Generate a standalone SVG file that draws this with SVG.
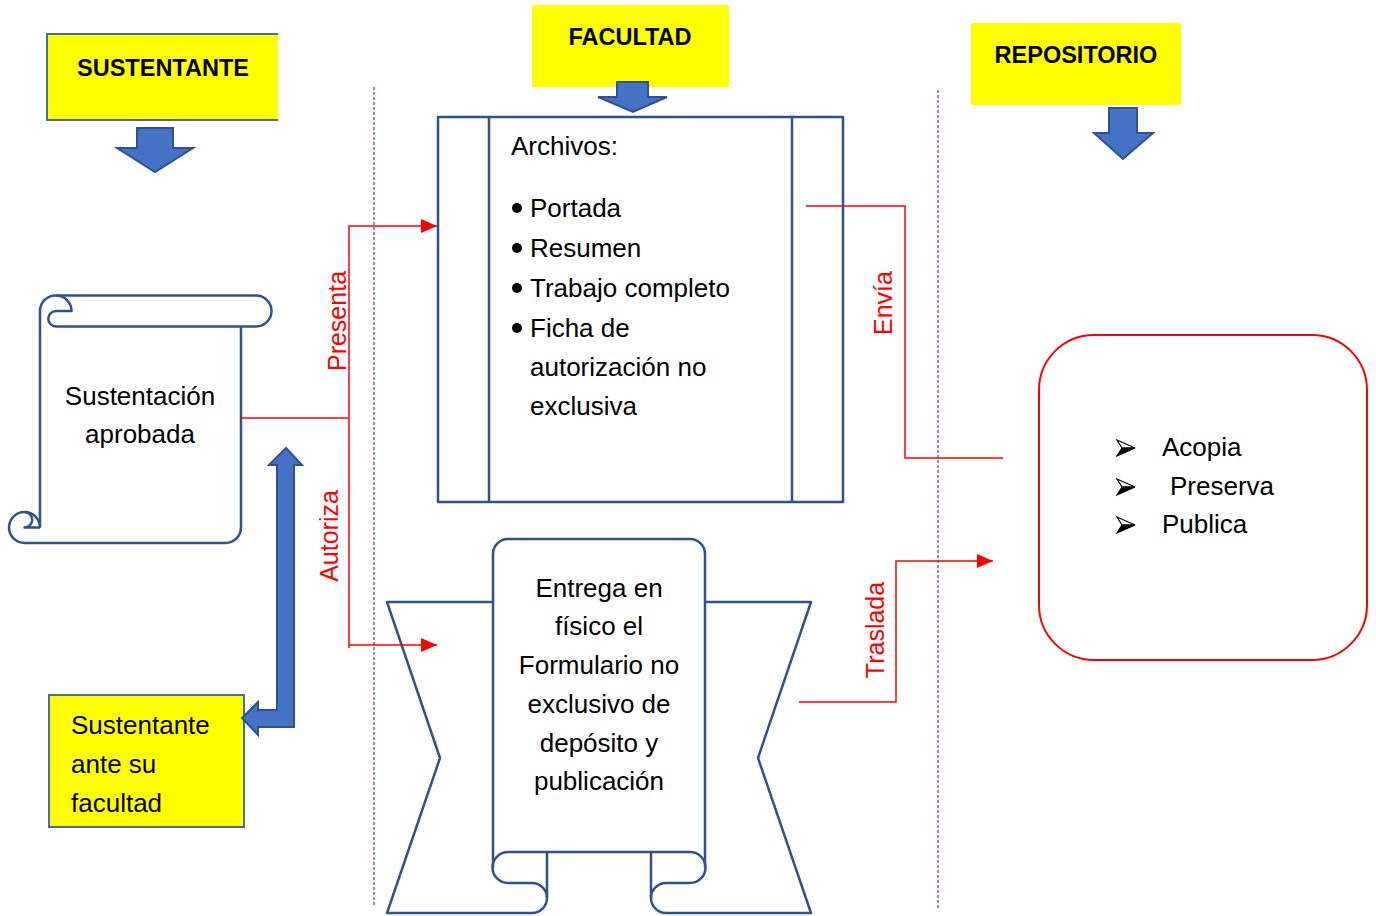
<svg xmlns="http://www.w3.org/2000/svg" width="1376" height="916" viewBox="0 0 1376 916">
<defs>
<style>
.t{font-family:"Liberation Sans",Arial,sans-serif;font-size:26px;fill:#000}
.h{font-family:"Liberation Sans",Arial,sans-serif;font-size:23.5px;font-weight:bold;fill:#000;text-anchor:middle}
.lab{font-family:"Liberation Sans",Arial,sans-serif;font-size:25px;fill:#FF0000;text-anchor:middle}
.sh{fill:#fff;stroke:#2F528F;stroke-width:2.5;stroke-linejoin:round}
.ln{fill:none;stroke:#2F528F;stroke-width:2.5;stroke-linejoin:round}
.ar{fill:#4472C4;stroke:#2F528F;stroke-width:2;stroke-linejoin:miter}
.yl{fill:#FFFF00}
.con{fill:none;stroke:#FF0000;stroke-width:1.5}
.dash{fill:none;stroke:#7030A0;stroke-width:1.2;stroke-dasharray:3 2}
.dot{fill:#000}
.bw{fill:#fff;stroke:#000;stroke-width:1.2;stroke-linejoin:miter}
.bb{fill:#000;stroke:#000;stroke-width:1.2;stroke-linejoin:miter}
</style>
<marker id="ah" viewBox="0 0 16 14" refX="16" refY="7" markerWidth="16" markerHeight="14" markerUnits="userSpaceOnUse" orient="auto">
<path d="M0,0 L16,7 L0,14 Z" fill="#FF0000"/>
</marker>
<g id="arrowbullet">
<path class="bw" d="M0,-8 L18,0 L5,0 Z"/>
<path class="bb" d="M5,0 L18,0 L0,8 Z"/>
</g>
</defs>
<rect width="1376" height="916" fill="#fff"/>

<g id="lanes">
<line class="dash" x1="374" y1="87" x2="374" y2="905"/>
<line class="dash" x1="938" y1="90" x2="938" y2="910"/>
</g>

<g id="sustentante">
<rect class="yl" x="47" y="34" width="231" height="86"/>
<path d="M278,34 L47,34 L47,120 L278,120" fill="none" stroke="#41719C" stroke-width="2"/>
<text class="h" x="163" y="76">SUSTENTANTE</text>
<path class="ar" d="M137,128 L173,128 L173,148 L193,148 L155,172 L117,148 L137,148 Z"/>
</g>

<g id="facultad">
<rect class="yl" x="532" y="5" width="197" height="82"/>
<text class="h" x="630" y="45">FACULTAD</text>
<path class="ar" d="M617,82 L648,82 L648,97 L667,97 L633,112 L598,97 L617,97 Z"/>
</g>

<g id="repositorio">
<rect class="yl" x="971" y="23" width="210" height="82"/>
<text class="h" x="1076" y="63">REPOSITORIO</text>
<path class="ar" d="M1109,108 L1137,108 L1137,133 L1153,133 L1123,159 L1094,133 L1109,133 Z"/>
</g>

<g id="sustentacion">
<path d="M40,311 A15.5,15.5 0 0 1 56,295.5 L256,295.5 A15.5,15.5 0 0 1 256,326.5 L241,326.5 L241,527.5 A15.5,15.5 0 0 1 225.5,543 L24.5,543 A15.5,15.5 0 0 1 24.5,512 A15.5,15.5 0 0 1 40,527.5 Z" fill="#fff"/>
<path class="ln" d="M40,527.5 L40,311 A15.5,15.5 0 0 1 56,295.5 L256,295.5 A15.5,15.5 0 0 1 256,326.5 L56,326.5"/>
<path class="ln" d="M56,295.5 A15.5,15.5 0 0 1 71.5,311 L56,311 A7.75,7.75 0 0 0 56,326.5"/>
<path class="ln" d="M241,326.5 L241,527.5 A15.5,15.5 0 0 1 225.5,543 L24.5,543 A15.5,15.5 0 0 1 24.5,512 A15.5,15.5 0 0 1 40,527.5"/>
<path class="ln" d="M24.5,512 A7.75,7.75 0 0 1 24.5,527.5 L40,527.5"/>
<text class="t" x="140" y="405" text-anchor="middle">Sustentación</text>
<text class="t" x="140" y="443" text-anchor="middle">aprobada</text>
</g>

<g id="ante-facultad">
<rect x="49" y="695" width="195" height="132" fill="#FFFF00" stroke="#41719C" stroke-width="2"/>
<text class="t" x="71" y="734">Sustentante</text>
<text class="t" x="71" y="773">ante su</text>
<text class="t" x="71" y="812">facultad</text>
</g>

<g id="archivos">
<rect class="sh" x="438" y="117" width="405" height="385"/>
<line class="ln" x1="489" y1="117" x2="489" y2="502"/>
<line class="ln" x1="792" y1="117" x2="792" y2="502"/>
<text class="t" x="511" y="155">Archivos:</text>
<circle class="dot" cx="517" cy="208" r="5"/><text class="t" x="530" y="217">Portada</text>
<circle class="dot" cx="517" cy="248" r="5"/><text class="t" x="530" y="257">Resumen</text>
<circle class="dot" cx="517" cy="288" r="5"/><text class="t" x="530" y="297">Trabajo completo</text>
<circle class="dot" cx="517" cy="328" r="5"/><text class="t" x="530" y="337">Ficha de</text>
<text class="t" x="530" y="376">autorización no</text>
<text class="t" x="530" y="415">exclusiva</text>
</g>

<g id="entrega">
<path d="M493,602 L387,602 L440,758 L387,913 L811,913 L758,758 L811,602 L705,602 L705,554 A15,15 0 0 0 690,539 L508,539 A15,15 0 0 0 493,554 Z" fill="#fff"/>
<path class="ln" d="M493,602 L387,602 L440,758 L387,913 L532,913 A15,15 0 0 0 547,898 L547,852"/>
<path class="ln" d="M705,602 L811,602 L758,758 L811,913 L666,913 A15,15 0 0 1 651,898 L651,852"/>
<path class="ln" d="M493,867.5 L493,554 A15,15 0 0 1 508,539 L690,539 A15,15 0 0 1 705,554 L705,867.5"/>
<path class="ln" d="M508,852 L690,852"/>
<path class="ln" d="M508,852 A15.5,15.5 0 0 0 508,883 L532,883 A15,15 0 0 1 547,898"/>
<path class="ln" d="M690,852 A15.5,15.5 0 0 1 690,883 L666,883 A15,15 0 0 0 651,898"/>
<text class="t" x="599" y="597" text-anchor="middle">Entrega en</text>
<text class="t" x="599" y="635" text-anchor="middle">físico el</text>
<text class="t" x="599" y="674" text-anchor="middle">Formulario no</text>
<text class="t" x="599" y="713" text-anchor="middle">exclusivo de</text>
<text class="t" x="599" y="752" text-anchor="middle">depósito y</text>
<text class="t" x="599" y="790" text-anchor="middle">publicación</text>
</g>

<g id="repositorio-acciones">
<rect x="1039" y="335" width="328" height="325" rx="55" ry="55" fill="#fff" stroke="#FF0000" stroke-width="2"/>
<use href="#arrowbullet" x="1117" y="448"/>
<use href="#arrowbullet" x="1117" y="487"/>
<use href="#arrowbullet" x="1117" y="525"/>
<text class="t" x="1162" y="456">Acopia</text>
<text class="t" x="1170" y="495">Preserva</text>
<text class="t" x="1162" y="533">Publica</text>
</g>

<g id="connectors">
<path class="con" d="M240,418 L348,418"/>
<path class="con" d="M349,648 L349,226 L437,226" marker-end="url(#ah)"/>
<path class="con" d="M349,645 L437,645" marker-end="url(#ah)"/>
<path class="con" d="M806,206 L905,206 L905,458 L1003,458"/>
<path class="con" d="M799,702 L896,702 L896,561 L993,561" marker-end="url(#ah)"/>
<path class="ar" d="M286,448 L302,465 L294,465 L294,727 L258,727 L258,735 L242,718 L258,702 L258,710 L277,710 L277,465 L269,465 Z"/>
<text class="lab" transform="translate(346,321) rotate(-90)">Presenta</text>
<text class="lab" transform="translate(338,536) rotate(-90)">Autoriza</text>
<text class="lab" transform="translate(892,303) rotate(-90)">Envía</text>
<text class="lab" transform="translate(884,630) rotate(-90)">Traslada</text>
</g>
</svg>
